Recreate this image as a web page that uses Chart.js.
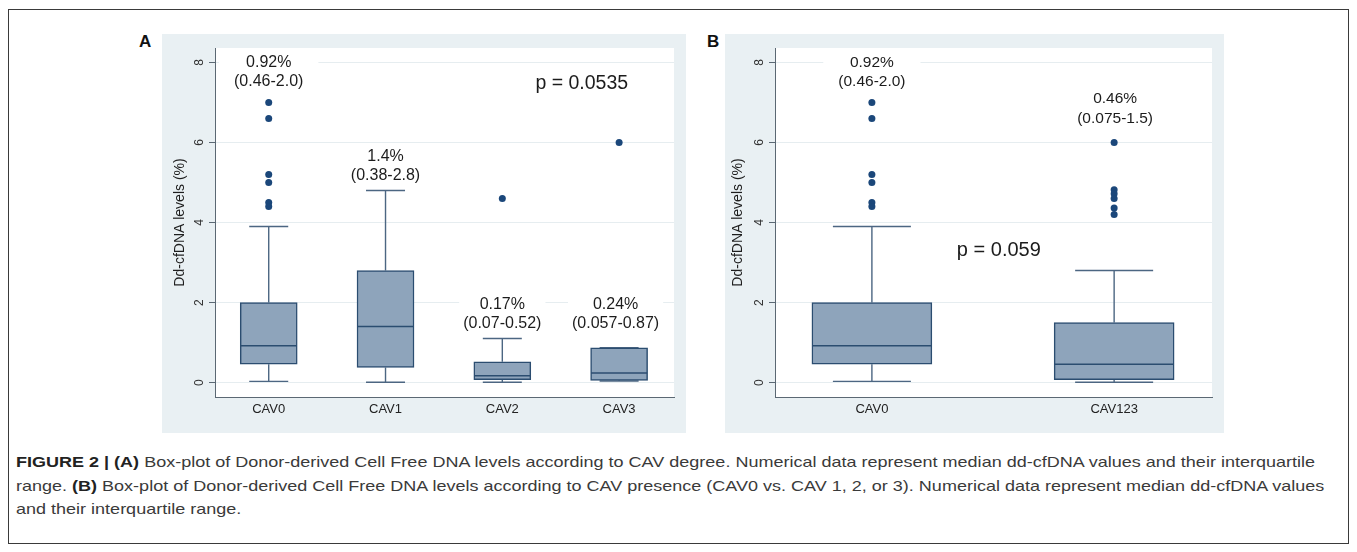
<!DOCTYPE html>
<html>
<head>
<meta charset="utf-8">
<script src="https://cdn.jsdelivr.net/npm/chart.js@4.4.1/dist/chart.umd.min.js"></script>
<style>
html,body{margin:0;padding:0;background:#fff;width:1357px;height:552px;overflow:hidden;}
body{position:relative;font-family:"Liberation Sans",Arial,sans-serif;}
#frame{position:absolute;left:8px;top:9px;width:1341px;height:535px;border:1px solid #3a3a3a;box-sizing:border-box;}
.panel{position:absolute;background:#e9f0f3;}
#pA{left:162px;top:34px;width:524px;height:399px;}
#pB{left:725px;top:34px;width:499px;height:399px;}
.panel canvas{display:block;}
.letter{position:absolute;font-weight:bold;font-size:17px;line-height:17px;color:#111;}
#cap{position:absolute;left:16px;top:450px;font-family:"Liberation Sans Narrow","Liberation Sans",Arial,sans-serif;font-size:15px;line-height:23.5px;color:#3a3a3a;white-space:nowrap;transform-origin:0 0;}
#cap b{color:#222;}
#cap .ln{display:block;width:max-content;}
</style>
</head>
<body>
<div id="frame"></div>
<div class="letter" style="left:139px;top:33px;">A</div>
<div class="letter" style="left:707px;top:33px;">B</div>
<div class="panel" id="pA"><canvas id="cA" width="524" height="399"></canvas></div>
<div class="panel" id="pB"><canvas id="cB" width="499" height="399"></canvas></div>
<div id="cap">
<span class="ln" id="ln1"><b>FIGURE 2 | (A)</b> Box-plot of Donor-derived Cell Free DNA levels according to CAV degree. Numerical data represent median dd-cfDNA values and their interquartile</span>
<span class="ln"><span>range. </span><b>(B)</b> Box-plot of Donor-derived Cell Free DNA levels according to CAV presence (CAV0 vs. CAV 1, 2, or 3). Numerical data represent median dd-cfDNA values</span>
<span class="ln">and their interquartile range.</span>
</div>
<script>
// ---------------- DATA ----------------
const yTicks = [0, 2, 4, 6, 8];

// Panel A: by CAV degree
const categoriesA = ['CAV0', 'CAV1', 'CAV2', 'CAV3'];
const lowerWhiskerA = [0.03, 0.01, 0.01, 0.04];
const q1A = [0.46, 0.38, 0.07, 0.057];
const medianA = [0.92, 1.4, 0.17, 0.24];
const q3A = [2.0, 2.8, 0.52, 0.87];
const upperWhiskerA = [3.9, 4.8, 1.1, 0.87];
const outliersA = [[7.0, 6.6, 5.2, 5.0, 4.5, 4.4], [], [4.6], [6.0]];
const annotTextA = [['0.92%', '(0.46-2.0)'], ['1.4%', '(0.38-2.8)'], ['0.17%', '(0.07-0.52)'], ['0.24%', '(0.057-0.87)']];
const pTextA = 'p = 0.0535';

// Panel B: CAV0 vs CAV1/2/3
const categoriesB = ['CAV0', 'CAV123'];
const lowerWhiskerB = [0.03, 0.01];
const q1B = [0.46, 0.075];
const medianB = [0.92, 0.46];
const q3B = [2.0, 1.5];
const upperWhiskerB = [3.9, 2.8];
const outliersB = [[7.0, 6.6, 5.2, 5.0, 4.5, 4.4], [6.0, 4.82, 4.72, 4.6, 4.36, 4.2]];
const annotTextB = [['0.92%', '(0.46-2.0)'], ['0.46%', '(0.075-1.5)']];
const pTextB = 'p = 0.059';

// ---------------- STYLE ----------------
const FONT = '"Liberation Sans", Arial, sans-serif';
const AXIS_COLOR = '#5b6873';
const GRID_COLOR = '#e6edf0';
const BOX_FILL = '#8ea4bb';
const BOX_LINE = '#2b4d70';
const WHISK = '#4c6682';
const DOT = '#1b477a';

const plotBg = {
  id: 'plotBg',
  beforeDraw(chart) {
    const {ctx, chartArea: a} = chart;
    ctx.save();
    ctx.fillStyle = '#ffffff';
    ctx.fillRect(a.left, a.top, a.right - a.left, a.bottom - a.top);
    ctx.restore();
  }
};

const annot = {
  id: 'annot',
  beforeDatasetsDraw(chart, args, opts) {
    const {ctx, chartArea: a, scales: {x, y}} = chart;
    (opts.items || []).forEach(it => {
      ctx.save();
      ctx.font = it.size + 'px ' + FONT;
      ctx.textAlign = 'center';
      ctx.textBaseline = 'middle';
      const px = x.getPixelForValue(it.x);
      const pys = it.ys.map(v => y.getPixelForValue(v));
      if (it.bg) {
        const w = Math.max(...it.lines.map(s => ctx.measureText(s).width)) + 2 * it.bg;
        let l = Math.max(px - w / 2, a.left + 1);
        let r = Math.min(px + w / 2, a.right);
        const t = Math.min(...pys) - it.size * 0.75;
        const b = Math.max(...pys) + it.size * 0.6;
        ctx.fillStyle = '#ffffff';
        ctx.fillRect(l, t, r - l, b - t);
      }
      ctx.fillStyle = '#1c1c1c';
      it.lines.forEach((s, k) => ctx.fillText(s, px, pys[k]));
      ctx.restore();
    });
  }
};

function buildConfig(cats, lw, q1, med, q3, uw, outs, opt) {
  const boxes = cats.map((c, i) => ({x: i, y: [q1[i], q3[i]]}));
  const medians = cats.map((c, i) => ({x: i, y: med[i]}));
  const caps = [];
  const whisk = [];
  cats.forEach((c, i) => {
    caps.push({x: i, y: uw[i]}, {x: i, y: lw[i]});
    whisk.push({x: i, y: q3[i]}, {x: i, y: uw[i]}, {x: i, y: null},
               {x: i, y: lw[i]}, {x: i, y: q1[i]}, {x: i, y: null});
  });
  const dots = [];
  outs.forEach((arr, i) => arr.forEach(v => dots.push({x: i, y: v})));

  return {
    type: 'bar',
    data: {
      datasets: [
        {type: 'line', data: whisk, borderColor: WHISK, borderWidth: 1.4, pointRadius: 0,
         spanGaps: false, tension: 0, order: 5},
        {type: 'scatter', data: caps, pointStyle: 'line', pointRadius: opt.capHalf,
         pointBorderColor: WHISK, pointBorderWidth: 1.4, pointBackgroundColor: WHISK, order: 4},
        {type: 'bar', data: boxes, backgroundColor: BOX_FILL, borderColor: BOX_LINE,
         borderWidth: 1.5, borderSkipped: false, barThickness: opt.boxW, order: 3},
        {type: 'scatter', data: medians, pointStyle: 'line', pointRadius: opt.boxW / 2 - 0.5,
         pointBorderColor: BOX_LINE, pointBorderWidth: 1.5, pointBackgroundColor: BOX_LINE, order: 2},
        {type: 'scatter', data: dots, pointStyle: 'circle', pointRadius: 3.5,
         pointBackgroundColor: DOT, pointBorderColor: DOT, pointBorderWidth: 0, order: 1}
      ]
    },
    options: {
      responsive: false,
      animation: false,
      events: [],
      layout: {autoPadding: false, padding: {left: 0, right: opt.padRight, top: opt.padTop, bottom: 0}},
      plugins: {
        legend: {display: false},
        tooltip: {enabled: false},
        annot: {items: opt.annots}
      },
      scales: {
        x: {
          type: 'linear', min: opt.xMin, max: opt.xMax, offset: false,
          afterBuildTicks: s => { s.ticks = cats.map((c, i) => ({value: i})); },
          afterFit: s => { s.height = opt.xAxisH; },
          grid: {display: false, drawTicks: false, offset: false},
          border: {display: true, color: AXIS_COLOR, width: 1},
          ticks: {autoSkip: false, maxRotation: 0, minRotation: 0, padding: 5,
                  color: '#222', font: {family: FONT, size: 13},
                  callback: v => cats[v]}
        },
        y: {
          type: 'linear', min: -0.36, max: 8.36,
          afterBuildTicks: s => { s.ticks = yTicks.map(v => ({value: v})); },
          afterFit: s => { s.width = opt.yAxisW; },
          grid: {color: GRID_COLOR, lineWidth: 1, drawTicks: true, tickLength: 6, tickColor: AXIS_COLOR, tickWidth: 1},
          border: {display: true, color: AXIS_COLOR, width: 1},
          ticks: {autoSkip: false, minRotation: 90, maxRotation: 90, crossAlign: 'center',
                  padding: 5.5, color: '#333', font: {family: FONT, size: 12},
                  callback: v => String(v)},
          title: {display: true, text: 'Dd-cfDNA levels (%)', color: '#1e1e1e',
                  font: {family: FONT, size: 14}, padding: {top: opt.titlePad, bottom: 0}}
        }
      }
    },
    plugins: [plotBg, annot]
  };
}

new Chart(document.getElementById('cA'), buildConfig(
  categoriesA, lowerWhiskerA, q1A, medianA, q3A, upperWhiskerA, outliersA, {
    xMin: -0.46, xMax: 3.47, boxW: 57, capHalf: 19.5, padRight: 12, padTop: 14,
    xAxisH: 36, yAxisW: 53, titlePad: 9.6,
    annots: [
      {lines: annotTextA[0], x: 0, ys: [8.0, 7.52], size: 16, bg: 15},
      {lines: annotTextA[1], x: 1, ys: [5.645, 5.17], size: 16, bg: 6},
      {lines: annotTextA[2], x: 2, ys: [1.96, 1.48], size: 16, bg: 4},
      {lines: annotTextA[3], x: 2.97, ys: [1.96, 1.48], size: 16, bg: 4},
      {lines: [pTextA], x: 2.68, ys: [7.48], size: 19.5, bg: 0}
    ]
  }));

new Chart(document.getElementById('cB'), buildConfig(
  categoriesB, lowerWhiskerB, q1B, medianB, q3B, upperWhiskerB, outliersB, {
    xMin: -0.4, xMax: 1.404, boxW: 120, capHalf: 39, padRight: 12, padTop: 14,
    xAxisH: 36, yAxisW: 50, titlePad: 4.6,
    annots: [
      {lines: annotTextB[0], x: 0, ys: [8.0, 7.52], size: 15.5, bg: 15},
      {lines: annotTextB[1], x: 1.004, ys: [7.09, 6.59], size: 15.5, bg: 4},
      {lines: [pTextB], x: 0.524, ys: [3.295], size: 20, bg: 0}
    ]
  }));

// fit caption width to reference
(function () {
  const cap = document.getElementById('cap');
  const w = document.getElementById('ln1').getBoundingClientRect().width;
  const k = 1299 / w;
  cap.style.transform = 'scaleX(' + k + ')';
})();
</script>
</body>
</html>
